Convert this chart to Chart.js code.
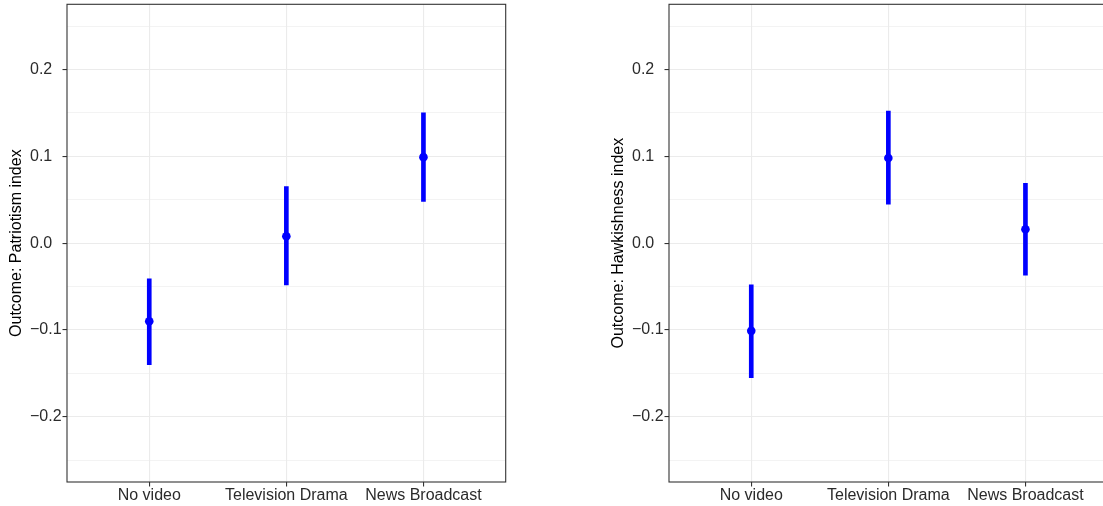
<!DOCTYPE html>
<html>
<head>
<meta charset="utf-8">
<script src="https://cdn.jsdelivr.net/npm/chart.js@4/dist/chart.umd.min.js"></script>
<style>
  html, body { margin: 0; padding: 0; background: #fff; overflow: hidden; width: 1103px; height: 506px; }
  canvas { position: absolute; top: 0; }
  #izq { left: 0; }
  #der { left: 602px; }
</style>
</head>
<body>
<canvas id="izq" width="510" height="506"></canvas>
<canvas id="der" width="510" height="506"></canvas>
<script>
const categorias = ["No video", "Television Drama", "News Broadcast"];

const patriotismo = [-0.090, 0.008, 0.099];
const patriotismoBajo = [-0.140, -0.048, 0.048];
const patriotismoAlto = [-0.041, 0.065, 0.150];

const halcon = [-0.101, 0.098, 0.016];
const halconBajo = [-0.155, 0.045, -0.037];
const halconAlto = [-0.048, 0.152, 0.069];

const ticksMayores = [-0.2, -0.1, 0, 0.1, 0.2];
const ticksMenores = [-0.25, -0.15, -0.05, 0.05, 0.15, 0.25];
const etiquetasY = ["\u22120.2", "\u22120.1", "0.0", "0.1", "0.2"];

const fuente = { family: "'Liberation Sans', Arial, sans-serif", size: 16 };
const azul = "#0000ff";

// marco del panel, ggplot lo pinta encima de todo
const marco = {
  id: "marco",
  afterDraw(chart) {
    const a = chart.chartArea;
    const ctx = chart.ctx;
    ctx.save();
    ctx.strokeStyle = "#333333";
    ctx.lineWidth = 1.1;
    ctx.strokeRect(a.left, a.top, a.right - a.left, a.bottom - a.top);
    ctx.restore();
  }
};

function esMayor(v) {
  return ticksMayores.some(t => Math.abs(t - v) < 1e-9);
}

function crearPanel(id, titulo, est, bajo, alto) {
  const ctx = document.getElementById(id).getContext("2d");
  return new Chart(ctx, {
    type: "scatter",
    data: {
      datasets: [
        {
          type: "scatter",
          data: est.map((v, i) => ({ x: i + 1, y: v })),
          backgroundColor: azul,
          borderColor: azul,
          pointRadius: 4.3,
          pointBorderWidth: 0,
          order: 0
        },
        {
          type: "bar",
          data: bajo.map((v, i) => ({ x: i + 1, y: [v, alto[i]] })),
          backgroundColor: azul,
          borderWidth: 0,
          barThickness: 4,
          order: 1
        }
      ]
    },
    options: {
      responsive: false,
      animation: false,
      devicePixelRatio: 1,
      layout: { padding: { left: 30, top: 4, right: 2, bottom: 0 } },
      plugins: { legend: { display: false }, tooltip: { enabled: false } },
      scales: {
        x: {
          type: "linear",
          min: 0.4,
          max: 3.6,
          offset: false,
          afterBuildTicks: s => { s.ticks = categorias.map((c, i) => ({ value: i + 1 })); },
          afterFit: s => { s.height = 24; s.paddingLeft = 0; s.paddingRight = 0; },
          border: { display: false },
          grid: { color: "#ebebeb", lineWidth: 1.1, tickColor: "#333333", tickLength: 4.5, tickWidth: 1.1, offset: false },
          ticks: {
            font: fuente,
            color: "#2b2b2b",
            padding: -1,
            maxRotation: 0,
            autoSkip: false,
            callback: v => categorias[v - 1]
          }
        },
        y: {
          min: -0.275,
          max: 0.275,
          afterBuildTicks: s => {
            s.ticks = ticksMayores.concat(ticksMenores).sort((a, b) => a - b).map(v => ({ value: v }));
          },
          afterFit: s => { s.width = 37; s.paddingTop = 0; s.paddingBottom = 0; },
          border: { display: false },
          grid: {
            color: "#ebebeb",
            lineWidth: c => esMayor(c.tick.value) ? 1.1 : 0.6,
            tickColor: c => esMayor(c.tick.value) ? "#333333" : "rgba(0,0,0,0)",
            tickLength: 4.5,
            tickWidth: 1.1
          },
          ticks: {
            font: fuente,
            color: "#2b2b2b",
            crossAlign: "far",
            autoSkip: false,
            callback: v => {
              const k = ticksMayores.findIndex(t => Math.abs(t - v) < 1e-9);
              return k >= 0 ? etiquetasY[k] : "";
            }
          },
          title: {
            display: true,
            text: titulo,
            font: fuente,
            color: "#000000",
            padding: { top: -22.6, bottom: 0 }
          }
        }
      }
    },
    plugins: [marco]
  });
}

crearPanel("izq", "Outcome: Patriotism index", patriotismo, patriotismoBajo, patriotismoAlto);
crearPanel("der", "Outcome: Hawkishness index", halcon, halconBajo, halconAlto);
</script>
</body>
</html>
